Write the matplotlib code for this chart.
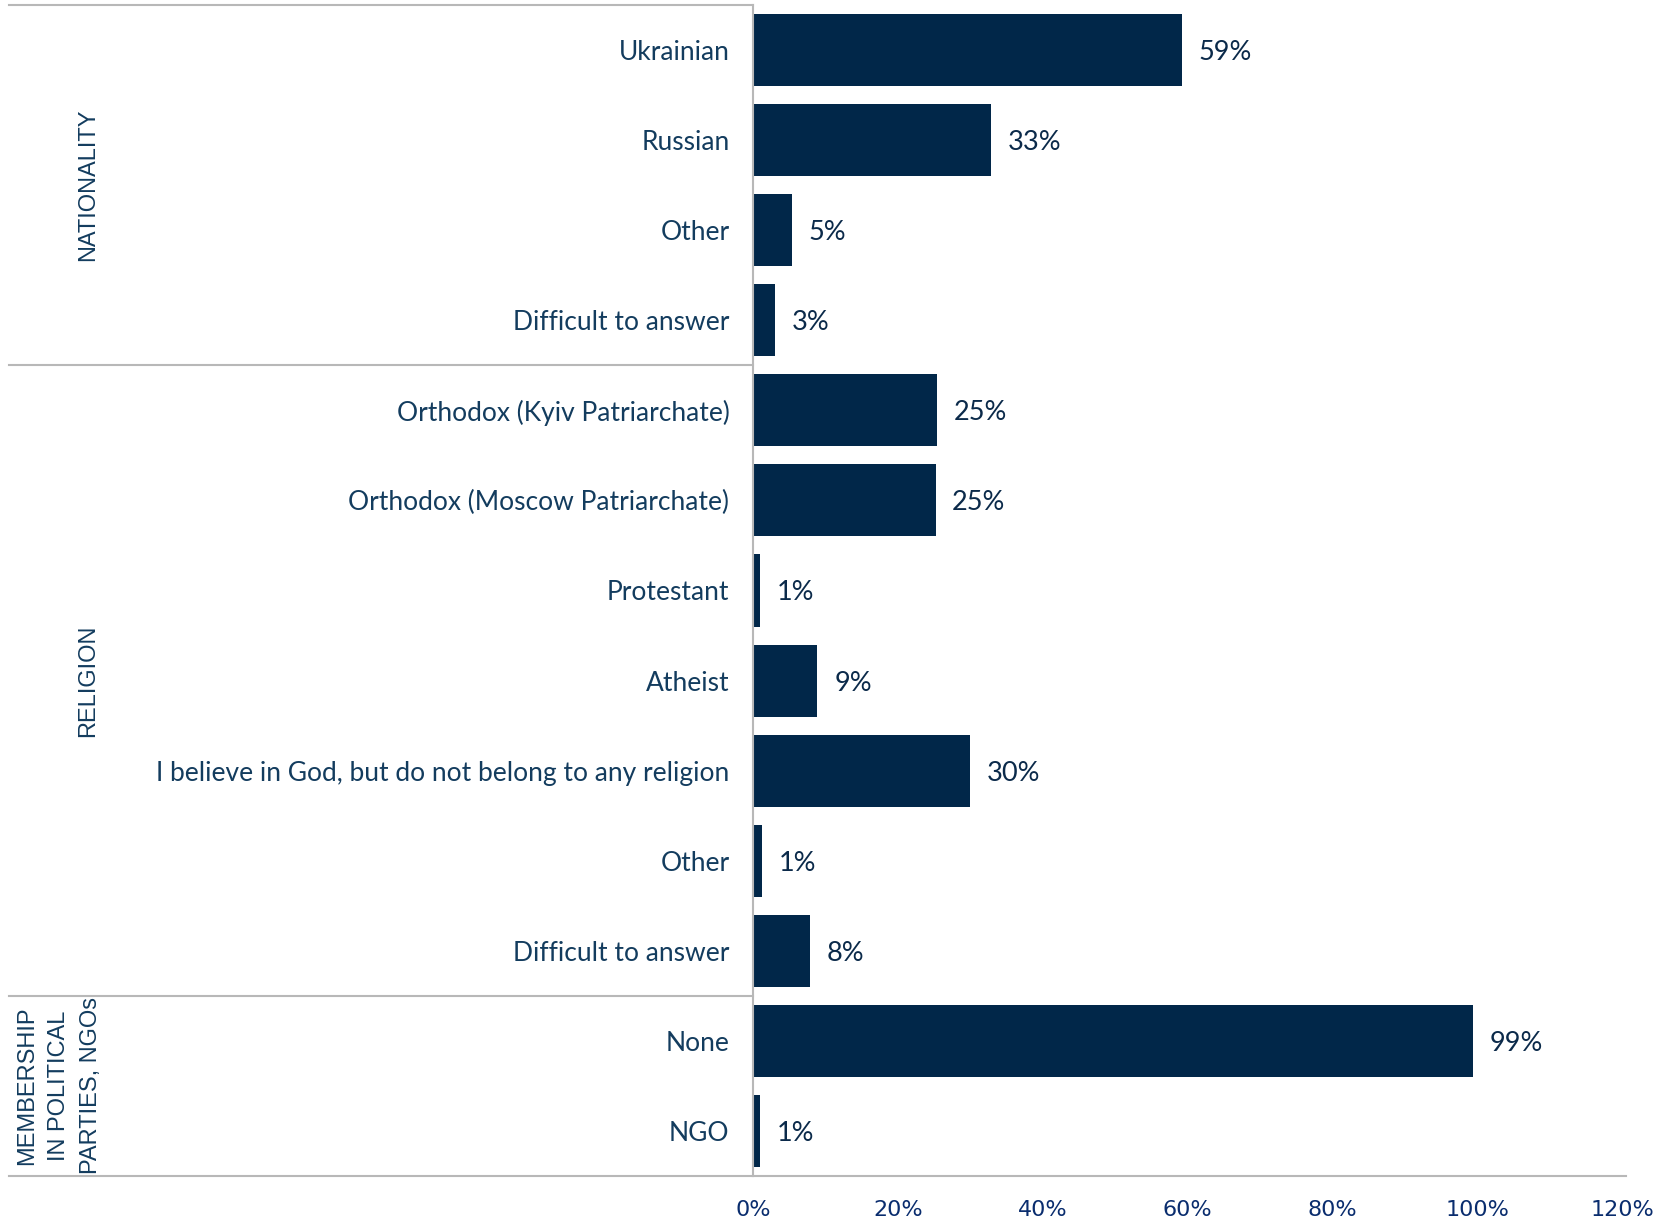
import matplotlib
matplotlib.use("Agg")
import matplotlib.pyplot as plt
import matplotlib.transforms as mtransforms
import numpy as np

# categories top to bottom
categories = ["Ukrainian", "Russian", "Other", "Difficult to answer",
              "Orthodox (Kyiv Patriarchate)", "Orthodox (Moscow Patriarchate)",
              "Protestant", "Atheist",
              "I believe in God, but do not belong to any religion",
              "Other", "Difficult to answer",
              "None", "NGO"]
values = [59.2, 32.8, 5.4, 3.1, 25.4, 25.2, 1.0, 8.9, 29.9, 1.2, 7.9, 99.4, 1.0]
groups = ["NATIONALITY", "RELIGION", "MEMBERSHIP\nIN POLITICAL\nPARTIES, NGOs"]
group_sizes = [4, 7, 2]
xticks = [0, 20, 40, 60, 80, 100, 120]

bar_color = "#012749"
text_color = "#133c5e"
grid_color = "#b8b8b8"

fig = plt.figure(figsize=(16.75, 12.23), dpi=100)
ax = fig.add_axes([753 / 1675, 1 - 1176 / 1223, (1626 - 753) / 1675, (1176 - 5) / 1223])

n = len(categories)
y = np.arange(n)
ax.barh(y, values, height=0.8, color=bar_color)
ax.set_ylim(n - 0.5, -0.5)
ax.set_xlim(0, 120.5)

for yi, v in zip(y, values):
    ax.text(v + 2.3, yi, f"{v:.0f}%", va="center_baseline", ha="left",
            fontsize=19.5, color="#0b2a4a", family="Lato")

ax.set_yticks(y)
ax.set_yticklabels(categories, fontsize=19, color=text_color, family="Lato")
ax.tick_params(axis="y", length=0, pad=17)
ax.set_xticks(xticks)
ax.set_xticklabels([f"{t}%" for t in xticks], fontsize=16, color="#0a2d6e",
                   family="Liberation Sans Narrow")
ax.tick_params(axis="x", length=0, pad=17)

for s in ["top", "right"]:
    ax.spines[s].set_visible(False)
ax.spines["left"].set_color(grid_color)
ax.spines["left"].set_linewidth(1.5)
ax.spines["bottom"].set_color(grid_color)
ax.spines["bottom"].set_linewidth(1.5)

# table lines on the left
trans = mtransforms.blended_transform_factory(fig.transFigure, ax.transData)
x0 = 9 / 1675
x1 = 753 / 1675
edge = -0.5
ax.plot([x0, x1], [edge, edge], transform=trans, color=grid_color, lw=1.5, clip_on=False)
for g, size in zip(groups, group_sizes):
    mid = edge + size / 2
    edge += size
    ax.plot([x0, x1], [edge, edge], transform=trans, color=grid_color, lw=1.5, clip_on=False)
    xpos = 88 / 1675 if "\n" not in g else 59 / 1675
    ax.text(xpos, mid, g, transform=trans, rotation=90, ha="center", va="center",
            fontsize=17, color=text_color, family="Liberation Sans", linespacing=1.6)

fig.savefig("out.png", dpi=100)
